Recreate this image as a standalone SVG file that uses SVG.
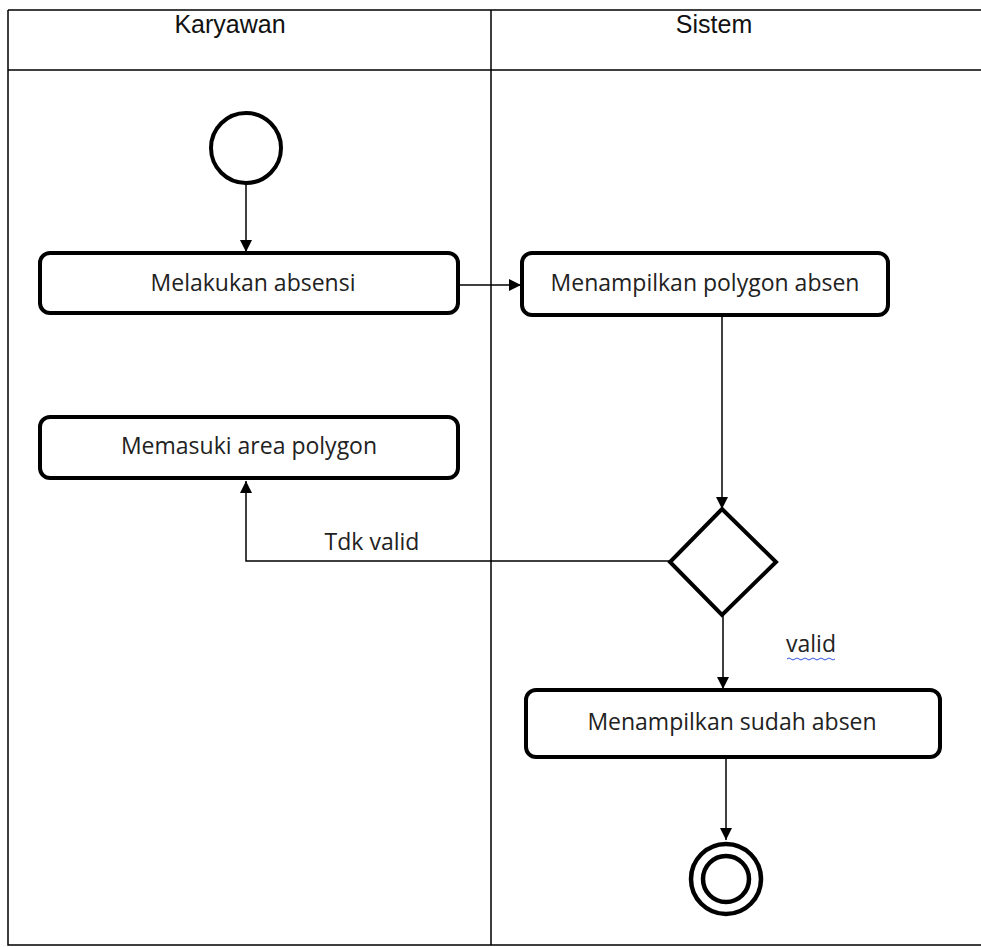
<svg xmlns="http://www.w3.org/2000/svg" width="981" height="947" viewBox="0 0 981 947">
<defs>
<style>
.lane{fill:none;stroke:#000;stroke-width:1.5}
.hdr{font-family:"Liberation Sans",Arial,sans-serif;font-size:25px;fill:#111;text-anchor:middle}
.box{fill:#fff;stroke:#000;stroke-width:4}
.lbl{font-family:"Open Sans","Noto Sans",sans-serif;font-size:23px;fill:#222;text-anchor:middle}
.edge{fill:none;stroke:#000;stroke-width:1.5}
</style>
<marker id="arr" viewBox="0 0 10 10" refX="10" refY="5" markerWidth="12" markerHeight="12" markerUnits="userSpaceOnUse" orient="auto">
<path d="M0,0 L10,5 L0,10 z" fill="#000"/>
</marker>
</defs>
<rect width="981" height="947" fill="#fff"/>
<g id="lanes">
<path class="lane" d="M8,10 H981 M8,70 H981 M8,10 V945 H981 M491,10 V945"/>
<text class="hdr" x="230" y="33">Karyawan</text>
<text class="hdr" x="714" y="33">Sistem</text>
</g>
<g id="connectors">
<path class="edge" d="M246,183 V252" marker-end="url(#arr)"/>
<path class="edge" d="M458,285 H521" marker-end="url(#arr)"/>
<path class="edge" d="M722,316 V509" marker-end="url(#arr)"/>
<path class="edge" d="M669,561 H246 V481" marker-end="url(#arr)"/>
<path class="edge" d="M723,615 V689" marker-end="url(#arr)"/>
<path class="edge" d="M726,757 V840" marker-end="url(#arr)"/>
<text class="lbl" x="372" y="550">Tdk valid</text>
<text class="lbl" x="811" y="652">valid</text>
<path d="M787,659 q2,-2 4,0 t4,0 t4,0 t4,0 t4,0 t4,0 t4,0 t4,0 t4,0 t4,0 t4,0 t4,0" fill="none" stroke="#3355dd" stroke-width="1"/>
</g>
<g id="start">
<circle cx="246" cy="148" r="35" fill="#fff" stroke="#000" stroke-width="4"/>
</g>
<g id="n1">
<rect class="box" x="40" y="253" width="418" height="60" rx="10"/>
<text class="lbl" x="253" y="291">Melakukan absensi</text>
</g>
<g id="n2">
<rect class="box" x="522" y="253" width="366" height="62" rx="10"/>
<text class="lbl" x="705" y="291">Menampilkan polygon absen</text>
</g>
<g id="n3">
<rect class="box" x="40" y="417" width="418" height="61" rx="10"/>
<text class="lbl" x="249" y="454">Memasuki area polygon</text>
</g>
<g id="decision">
<polygon points="722,509 776,562 722,615 670,562" fill="#fff" stroke="#000" stroke-width="4"/>
</g>
<g id="n4">
<rect class="box" x="526" y="690" width="414" height="67" rx="10"/>
<text class="lbl" x="732" y="730">Menampilkan sudah absen</text>
</g>
<g id="end">
<circle cx="726" cy="879" r="35" fill="#fff" stroke="#000" stroke-width="4.5"/>
<circle cx="726" cy="879" r="23" fill="#fff" stroke="#000" stroke-width="4.5"/>
</g>
</svg>
